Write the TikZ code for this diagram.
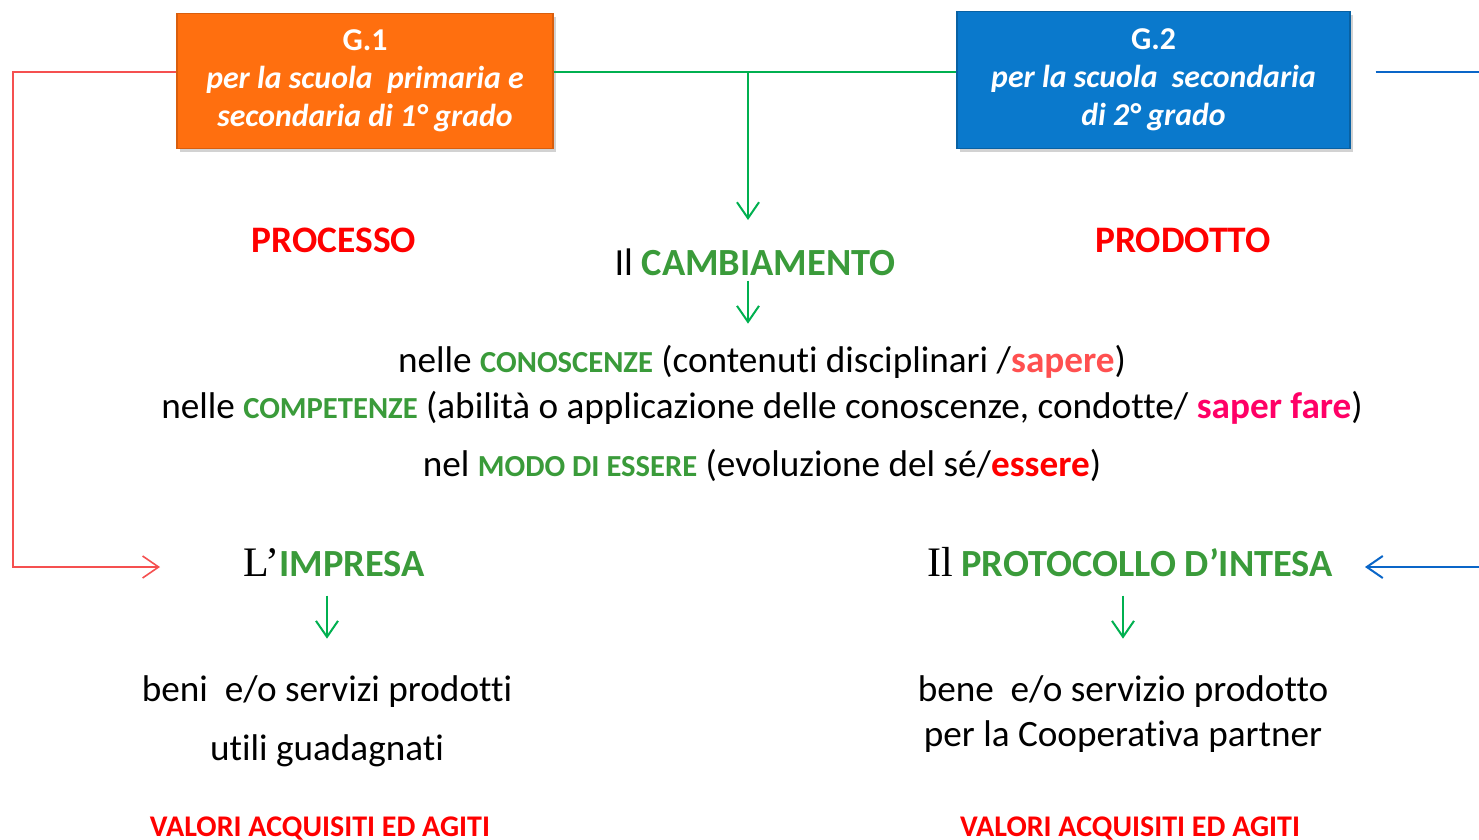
\documentclass[tikz,border=0pt]{standalone}
\usepackage{fontspec}
\setmainfont{Carlito}[Ligatures=NoCommon]
\newfontfamily\serfont{Liberation Serif}
\usetikzlibrary{arrows.meta,shadows}
\definecolor{gline}{HTML}{00B050}
\definecolor{gtext}{HTML}{3A9B3A}
\definecolor{rline}{HTML}{F55050}
\definecolor{bline}{HTML}{0A66C8}
\definecolor{orbox}{HTML}{FF6F0F}
\definecolor{blbox}{HTML}{0A79CC}
\definecolor{redt}{HTML}{FF0000}
\definecolor{sap}{HTML}{FF5050}
\definecolor{sapf}{HTML}{FF0066}
\newcommand{\scb}{\fontsize{15.3}{18}\selectfont\bfseries}
\tikzset{
  every node/.style={inner sep=0pt},
  gbox/.style={rectangle, text=white, align=center, font=\fontsize{15.9}{19}\selectfont\bfseries,
    drop shadow={shadow xshift=1.5pt, shadow yshift=-2pt, opacity=0.35}},
  mainline/.style={anchor=base, font=\fontsize{18.6}{22}\selectfont},
  heading/.style={anchor=base, font=\fontsize{18.7}{22}\selectfont\bfseries, text=redt},
  titlel/.style={anchor=base, font=\fontsize{19.2}{23}\selectfont},
  valori/.style={anchor=base, font=\fontsize{15}{18}\selectfont\bfseries, text=redt},
  garrow/.style={draw=gline, line width=1pt, -{Straight Barb[length=8pt,width=11pt,line width=1pt]}},
  rconn/.style={draw=rline, line width=0.8pt},
  bconn/.style={draw=bline, line width=1pt},
}
\begin{document}
\begin{tikzpicture}[x=0.5pt,y=-0.5pt]
\useasboundingbox (0,0) rectangle (1479,840);
\fill[white] (0,0) rectangle (1479,840);

% boxes
\node[gbox, fill=orbox, draw=orbox!85!black, line width=0.6pt, minimum width=188pt, minimum height=67.5pt] (g1) at (365,81)
  {G.1\\ \itshape per la scuola\ \ primaria e\\ \itshape secondaria di 1° grado};
\node[gbox, fill=blbox, draw=blbox!80!black, line width=0.6pt, minimum width=196.5pt, minimum height=68.5pt] (g2) at (1153.5,80)
  {G.2\\ \itshape per la scuola\ \ secondaria\\ \itshape di 2° grado};

% coordinates
\coordinate (j) at (748,72);
\coordinate (a1) at (748,220);
\coordinate (rc1) at (13,72);
\coordinate (rc2) at (13,567);
\coordinate (rtip) at (160,567);
\coordinate (bend) at (1479,72);
\coordinate (bstart) at (1479,567);
\coordinate (btip) at (1365,567);

% headings
\node[heading] (processo) at (334,252) {PROCESSO};
\node[heading] (prodotto) at (1183,252) {PRODOTTO};

\node[titlel] (camb) at (755,275) {Il \textcolor{gtext}{\bfseries CAMBIAMENTO}};

\node[mainline] (l1) at (762,372) {nelle \textcolor{gtext}{\scb CONOSCENZE} (contenuti disciplinari /\textcolor{sap}{\bfseries sapere})};
\node[mainline] (l2) at (762,418) {nelle \textcolor{gtext}{\scb COMPETENZE} (abilità o applicazione delle conoscenze, condotte/ \textcolor{sapf}{\bfseries saper fare})};
\node[mainline] (l3) at (762,476) {nel \textcolor{gtext}{\scb MODO DI ESSERE} (evoluzione del sé/\textcolor{redt}{\bfseries essere})};

\node[titlel] (impresa) at (334,576) {{\serfont\fontsize{21}{24}\selectfont L’}\textcolor{gtext}{\bfseries IMPRESA}};
\node[titlel] (protocollo) at (1130,576) {{\serfont\fontsize{21}{24}\selectfont Il} \textcolor{gtext}{\bfseries PROTOCOLLO D’INTESA}};

\node[mainline] (beni) at (327,701) {beni\ \ e/o servizi prodotti};
\node[mainline] (utili) at (327,760) {utili guadagnati};
\node[mainline] (bene) at (1123,701) {bene\ \ e/o servizio prodotto};
\node[mainline] (coop) at (1123,746) {per la Cooperativa partner};

\node[valori] (val1) at (320,836) {VALORI ACQUISITI ED AGITI};
\node[valori] (val2) at (1130,836) {VALORI ACQUISITI ED AGITI};

% connectors
\draw[draw=gline, line width=1pt] (g1.east |- j) -- (g2.west |- j);
\draw[garrow] (j) -- (a1);
\draw[garrow] (camb.south -| j) ++(0,5) coordinate (c1) -- ++(0,43);
\draw[garrow] (impresa.south -| beni) ++(0,19) coordinate (i1) -- ++(0,43);
\draw[garrow] (protocollo.south -| bene) ++(0,19) coordinate (p1) -- ++(0,43);
\draw[rconn, -{Straight Barb[length=8pt,width=11pt,line width=0.8pt]}] (g1.west |- j) -- (rc1) -- (rc2) -- (rtip);
\draw[bconn, shorten <=12.5pt] (g2.east |- j) -- (bend);
\draw[bconn, -{Straight Barb[length=8pt,width=11pt,line width=1pt]}] (bstart) -- (btip);
\end{tikzpicture}
\end{document}
